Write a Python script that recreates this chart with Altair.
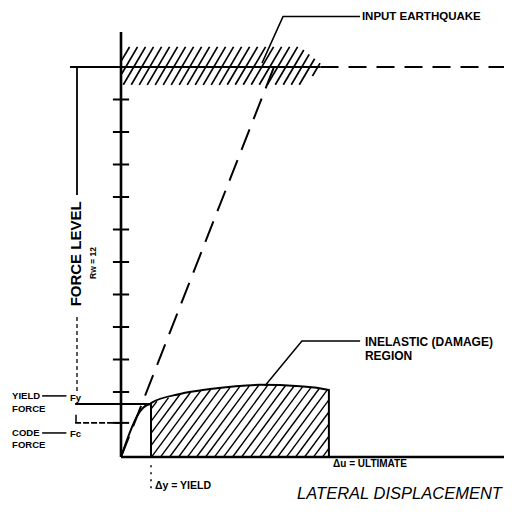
import altair as alt
import numpy as np
import pandas as pd

# ---- coordinate frame: displacement units (yield displacement = 1), force units (code force ~ 1)
X_DOMAIN = [-3.767, 12.767]
Y_DOMAIN = [-1.446, 13.815]
PX_X, PX_Y = 30.0, 32.5  # drawing units -> pixels (used for hatch slopes only)
FONT = "Liberation Sans, Arial, sans-serif"

# ---- values
axis_top = 13.08
axis_right = 12.97
tick_levels = [1.05, 2, 3, 4, 5, 6, 7, 8, 9, 10, 11]
eq_level = 12.0          # Rw = 12 (input earthquake level)
yield_force = 1.63
code_force = 1.05
delta_y = 1.0            # yield displacement
delta_u = 6.93           # ultimate displacement
elastic_top_x = 5.1

region_x = [1.0, 1.97, 2.97, 4.63, 5.97, 6.93]
region_y = [1.66, 1.94, 2.09, 2.22, 2.18, 2.06]

resp_x = [0.0, 0.73, 0.87, 1.0]
resp_y = [0.0, 1.51, 1.60, 1.63]

band_x = [0.0, 5.97, 6.8]
band_top = [12.62, 12.62, 12.0]
band_bot = [11.45, 11.45, 12.0]

label_text = ["INPUT EARTHQUAKE", "INELASTIC (DAMAGE)", "REGION", "YIELD", "FORCE",
              "CODE", "FORCE", "Fy", "Fc", "Δy = YIELD", "Δu = ULTIMATE"]
label_x = [8.03, 8.13, 8.13, -3.63, -3.63, -3.63, -3.63, -1.70, -1.70, 1.13, 7.07]
label_y = [13.55, 3.54, 3.12, 1.88, 1.48, 0.74, 0.37, 1.82, 0.71, -0.89, -0.22]
label_size = [11.5, 12, 12, 9.5, 9.5, 9.5, 9.5, 9.5, 9.5, 10.5, 10]

XS = alt.Scale(domain=X_DOMAIN, nice=False, zero=False)
YS = alt.Scale(domain=Y_DOMAIN, nice=False, zero=False)


def enc(ch):
    return ch.encode(x=alt.X("x:Q", scale=XS, axis=None), y=alt.Y("y:Q", scale=YS, axis=None))


def segs(rows, width=2.0, dash=None):
    df = pd.DataFrame(rows, columns=["x", "y", "x2", "y2"])
    kw = dict(color="black", strokeWidth=width, strokeCap="butt")
    if dash:
        kw["strokeDash"] = dash
    return enc(alt.Chart(df).mark_rule(**kw)).encode(x2="x2:Q", y2="y2:Q")


def polyline(xs, ys, width=2.0, dash=None, interp="linear"):
    df = pd.DataFrame({"x": xs, "y": ys, "o": range(len(xs))})
    kw = dict(color="black", strokeWidth=width, interpolate=interp)
    if dash:
        kw["strokeDash"] = dash
    return enc(alt.Chart(df).mark_line(**kw)).encode(order="o:Q")


def hatch(x0, x1, lower, upper, slope_px, spacing_px):
    k = slope_px * PX_X / PX_Y
    xs = np.linspace(x0, x1, 3000)
    lo, hi = lower(xs), upper(xs)
    rows = []
    cmin = x0 - hi.max() / k
    for c in np.arange(cmin, x1, spacing_px / PX_X):
        yl = k * (xs - c)
        inside = (yl >= lo) & (yl <= hi)
        if inside.sum() < 2:
            continue
        xa, xb = xs[inside][0], xs[inside][-1]
        rows.append([xa, k * (xa - c), xb, k * (xb - c)])
    return rows


layers = []

# axes
layers.append(segs([[0, 0, 0, axis_top], [0, 0, axis_right, 0]], width=2.6))
layers.append(segs([[-0.27, t, 0.27, t] for t in tick_levels], width=2.0))

# input earthquake level line
layers.append(segs([[-1.7, eq_level, 6.65, eq_level]], width=2.2))
layers.append(segs([[6.65, eq_level, axis_right, eq_level]], width=2.2, dash=[18, 10]))

# force level bracket
layers.append(segs([[-1.467, eq_level, -1.467, 8.06]], width=1.8))
layers.append(segs([[-1.467, 4.31, -1.467, 2.0]], width=1.3, dash=[4, 3]))
layers.append(segs([[-1.53, yield_force, delta_y, yield_force]], width=2.0))
layers.append(segs([[-1.53, code_force, 0.03, code_force]], width=1.6, dash=[6, 2]))
layers.append(segs([[-1.5, 1.3, -1.5, code_force]], width=1.5))

# label leaders
layers.append(segs([[-2.63, 1.88, -1.82, 1.88], [-2.63, 0.74, -1.82, 0.74]], width=1.5))
layers.append(polyline([4.7, 5.4, 7.97], [12.12, 13.55, 13.55], width=1.5))
layers.append(polyline([4.8, 6.03, 7.97], [2.19, 3.57, 3.57], width=1.5))

# elastic (dashed) line
layers.append(polyline([0, elastic_top_x], [0, eq_level], width=2.0, dash=[22, 11]))

# initial response
layers.append(polyline(resp_x, resp_y, width=2.0, interp="monotone"))

# inelastic region outline
layers.append(polyline([delta_y] + region_x + [delta_u],
                       [0] + region_y + [0], width=2.0, interp="monotone"))

# hatching: inelastic region
reg_rows = hatch(delta_y, delta_u,
                 lambda v: np.zeros_like(v),
                 lambda v: np.interp(v, region_x, region_y),
                 slope_px=1.35, spacing_px=9.0)
layers.append(segs(reg_rows, width=1.4))

# hatching: input earthquake band
band_rows = hatch(0.02, band_x[-1],
                  lambda v: np.interp(v, band_x, band_bot),
                  lambda v: np.interp(v, band_x, band_top),
                  slope_px=1.7, spacing_px=8.0)
layers.append(segs(band_rows, width=1.7))

# yield displacement dotted marker
layers.append(segs([[delta_y, -0.25, delta_y, -1.11]], width=1.5, dash=[2, 5]))

# small labels
lab = pd.DataFrame({"t": label_text, "x": label_x, "y": label_y, "s": label_size})
layers.append(enc(alt.Chart(lab).mark_text(
    align="left", baseline="middle", fontWeight="bold",
    font=FONT, color="black")).encode(text="t:N", size=alt.Size("s:Q", scale=None)))

# FORCE LEVEL (rotated) and Rw
fl = pd.DataFrame({"t": ["FORCE LEVEL"], "x": [-1.5], "y": [6.25]})
layers.append(enc(alt.Chart(fl).mark_text(
    angle=270, align="center", baseline="middle", fontSize=15, fontWeight="bold",
    font=FONT, color="black")).encode(text="t:N"))
rw = pd.DataFrame({"t": ["Rw = 12"], "x": [-0.93], "y": [5.97]})
layers.append(enc(alt.Chart(rw).mark_text(
    angle=270, align="center", baseline="middle", fontSize=8.5, fontWeight="bold",
    font=FONT, color="black")).encode(text="t:N"))

# LATERAL DISPLACEMENT
ld = pd.DataFrame({"t": ["LATERAL DISPLACEMENT"], "x": [5.87], "y": [-1.14]})
layers.append(enc(alt.Chart(ld).mark_text(
    align="left", baseline="middle", fontSize=16.5, fontStyle="italic",
    font=FONT, color="black")).encode(text="t:N"))

chart = alt.layer(*layers).properties(
    width=496, height=496, padding=0, autosize=alt.AutoSizeParams(type="none"),
    background="white"
).configure_view(stroke=None)

chart.save("out.html", embed_options={"renderer": "svg", "actions": False})
